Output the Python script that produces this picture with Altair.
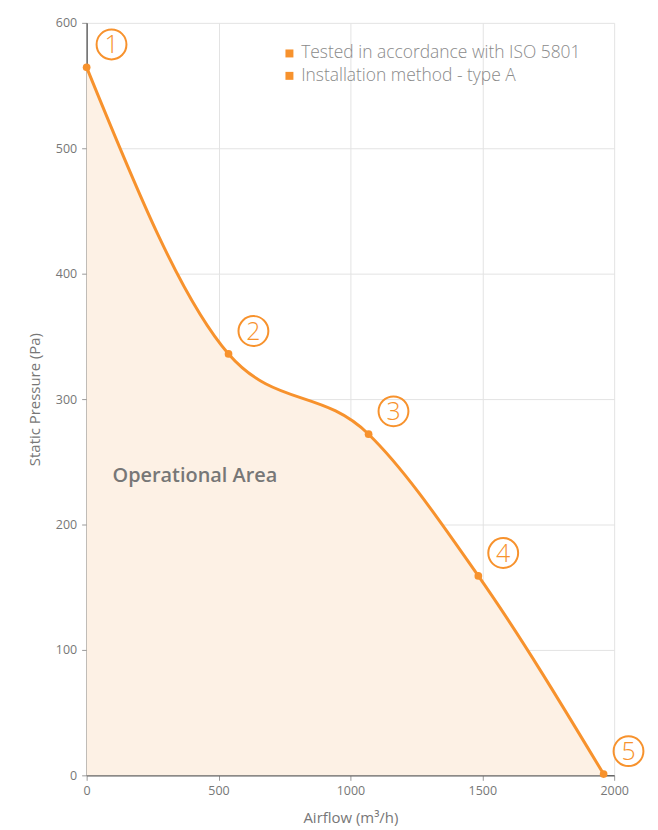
import altair as alt
import pandas as pd

# ---- data ----
airflow = [0, 538, 1069, 1485, 1960]
pressure = [564.5, 336, 272, 159, 1]
point_labels = ["1", "2", "3", "4", "5"]
legend_items = ["Tested in accordance with ISO 5801", "Installation method - type A"]
area_text = ["Operational Area"]
area_text_x = [98]
area_text_y = [239]
x_ticks = [0, 500, 1000, 1500, 2000]
y_ticks = [0, 100, 200, 300, 400, 500, 600]

ORANGE = "#f7922d"
FILL = "#fdf1e5"
GRAY = "#777777"
FONT = "Open Sans"

curve = pd.DataFrame({"airflow": airflow, "pressure": pressure, "label": point_labels})
legend_df = pd.DataFrame({"item": legend_items})
text_df = pd.DataFrame({"t": area_text, "x": area_text_x, "y": area_text_y})

xscale = alt.Scale(domain=[0, 2000], nice=False, zero=True)
yscale = alt.Scale(domain=[0, 600], nice=False, zero=True)

x_axis = alt.Axis(values=x_ticks, format="d", title="Airflow (m³/h)", grid=True, gridColor="#e3e3e3",
                  domainColor="#666", domainWidth=1.5, tickColor="#999", tickSize=5,
                  labelColor="#777", labelFontSize=12.5, labelFont=FONT, labelPadding=4,
                  labelFlush=False,
                  titleFont=FONT, titleFontSize=15, titleFontWeight="normal",
                  titleColor=GRAY, titlePadding=14)
y_axis = alt.Axis(values=y_ticks, format="d", title="Static Pressure (Pa)", grid=True, gridColor="#e3e3e3",
                  domainColor="#666", domainWidth=1.5, tickColor="#999", tickSize=5,
                  labelColor="#777", labelFontSize=12.5, labelFont=FONT, labelPadding=5,
                  labelFlush=False,
                  titleFont=FONT, titleFontSize=15, titleFontWeight="normal",
                  titleColor=GRAY, titlePadding=13)

base = alt.Chart(curve)

area = base.mark_area(interpolate="monotone", color=FILL, opacity=1).encode(
    x=alt.X("airflow:Q", scale=xscale, axis=x_axis),
    y=alt.Y("pressure:Q", scale=yscale, axis=y_axis),
)
line = base.mark_line(interpolate="monotone", color=ORANGE, strokeWidth=3).encode(
    x=alt.X("airflow:Q", scale=xscale),
    y=alt.Y("pressure:Q", scale=yscale),
)
dots = base.mark_point(filled=True, color=ORANGE, size=60, opacity=1).encode(
    x=alt.X("airflow:Q", scale=xscale),
    y=alt.Y("pressure:Q", scale=yscale),
)
rings = base.mark_point(shape="circle", filled=False, color=ORANGE, strokeWidth=2,
                        size=900, opacity=1, xOffset=25, yOffset=-23).encode(
    x=alt.X("airflow:Q", scale=xscale),
    y=alt.Y("pressure:Q", scale=yscale),
)
digits = base.mark_text(color=ORANGE, font=FONT, fontSize=25, fontWeight=300,
                        dx=25, dy=-22, align="center", baseline="middle").encode(
    x=alt.X("airflow:Q", scale=xscale),
    y=alt.Y("pressure:Q", scale=yscale),
    text="label:N",
)
area_label = alt.Chart(text_df).mark_text(color=GRAY, font=FONT, fontSize=20, fontWeight=600,
                                          align="left", baseline="middle").encode(
    x=alt.X("x:Q", scale=xscale),
    y=alt.Y("y:Q", scale=yscale),
    text="t:N",
)
legend_layer = alt.Chart(legend_df).mark_point(shape="square", filled=True, opacity=0).encode(
    color=alt.Color("item:N", scale=alt.Scale(domain=legend_items, range=[ORANGE, ORANGE]),
                    sort=legend_items,
                    legend=alt.Legend(title=None, orient="none", legendX=195, legendY=22,
                                      symbolType="square", symbolSize=64, symbolOpacity=1,
                                      symbolStrokeWidth=0,
                                      labelFont=FONT, labelFontSize=17.5, labelColor="#8a8a8a",
                                      labelFontWeight=300, labelOffset=3, rowPadding=3.5,
                                      padding=0, labelLimit=400)),
)

chart = alt.layer(area, line, dots, rings, digits, area_label, legend_layer).properties(
    width=530, height=756,
    autosize=alt.AutoSizeParams(type="none"),
    padding={"left": 79, "top": 13, "right": 36, "bottom": 52},
).configure_view(stroke=None)

chart.save("out.html", embed_options={"renderer": "svg", "actions": False})
